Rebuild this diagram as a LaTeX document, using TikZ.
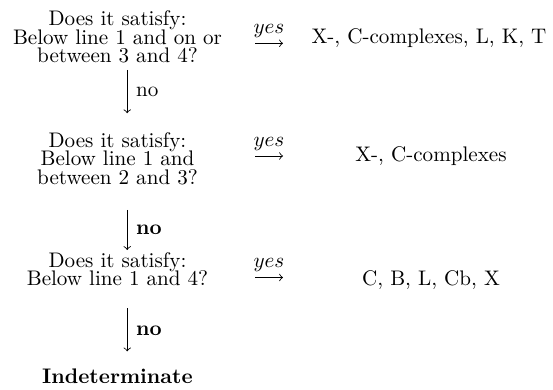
\documentclass[tikz,border=0pt]{standalone}
\usepackage{tikz}
\newcommand{\qspacing}{\setlength{\baselineskip}{8.7pt}\setlength{\lineskiplimit}{-5pt}}
\tikzset{
  qbox/.style={align=center, inner sep=0pt, anchor=north, font=\qspacing},
  ansbox/.style={inner sep=0pt, anchor=base},
  flowarrow/.style={->, thin},
  nolabel/.style={right, inner sep=0pt, xshift=4pt},
  yeslabel/.style={above, inner sep=2.6pt}
}

\begin{document}
\begin{tikzpicture}[x=0.474pt, y=-0.474pt]
  \useasboundingbox (0,0) rectangle (553,389);
  \node[qbox] (q1) at (117.5,10.4) {Does it satisfy:\\Below line 1 and on or\\between 3 and 4?};
  \node[qbox] (q2) at (117.5,132) {Does it satisfy:\\Below line 1 and\\between 2 and 3?};
  \node[qbox] (q3) at (117.5,252) {Does it satisfy:\\Below line 1 and 4?};
  \node[inner sep=0pt, anchor=base] (ind) at (117.5,383.3) {\textbf{Indeterminate}};

  \node[ansbox] (a1) at (429,43.3) {X-, C-complexes, L, K, T};
  \node[ansbox] (a2) at (431,161) {X-, C-complexes};
  \node[ansbox] (a3) at (431,285) {C, B, L, Cb, X};

  \coordinate (y1s) at (255,43.3);  \coordinate (y1e) at (283,43.3);
  \coordinate (y2s) at (255,156); \coordinate (y2e) at (283,156);
  \coordinate (y3s) at (255,277.5); \coordinate (y3e) at (283,277.5);
  \draw[flowarrow] (y1s) -- node[yeslabel] {$yes$} (y1e);
  \draw[flowarrow] (y2s) -- node[yeslabel] {$yes$} (y2e);
  \draw[flowarrow] (y3s) -- node[yeslabel] {$yes$} (y3e);

  \draw[flowarrow] ([xshift=4.6pt,yshift=-3.1pt]q1.south) -- node[nolabel] {no} ([xshift=4.6pt,yshift=8.9pt]q2.north);
  \draw[flowarrow] ([xshift=4.6pt,yshift=-11.85pt]q2.south) -- node[nolabel] {\textbf{no}} ([xshift=4.6pt,yshift=0.95pt]q3.north);
  \draw[flowarrow] ([xshift=4.6pt,yshift=-10.3pt]q3.south) -- node[nolabel, pos=0.53] {\textbf{no}} ([xshift=4.6pt,yshift=8pt]ind.north);
\end{tikzpicture}
\end{document}
